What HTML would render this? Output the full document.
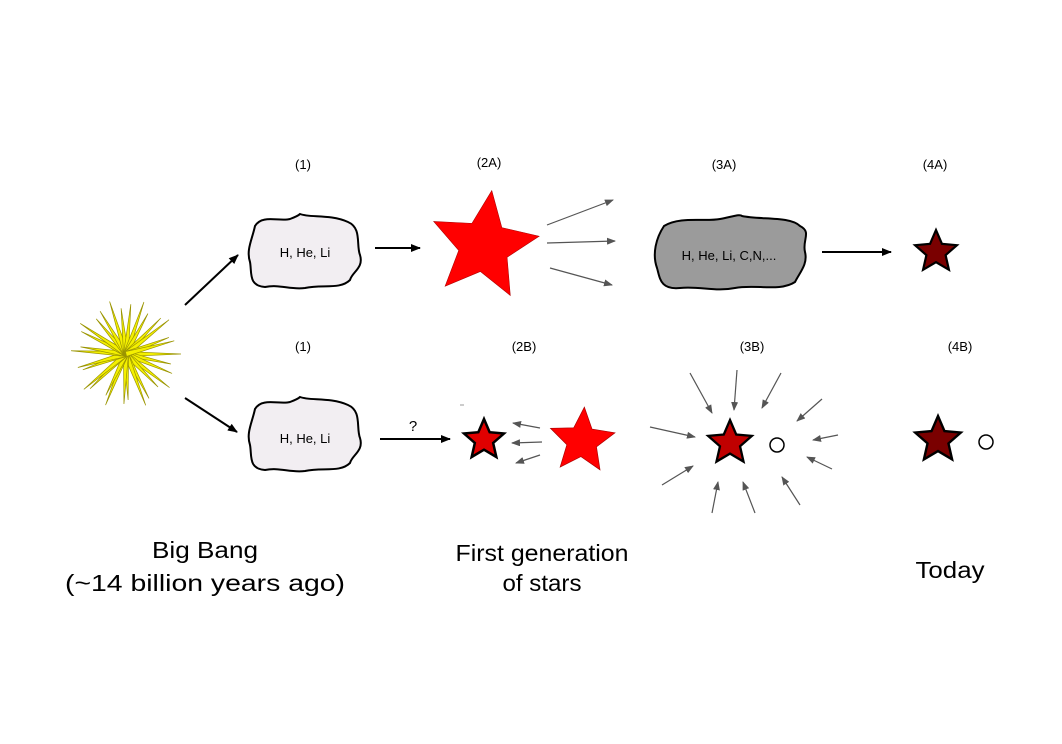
<!DOCTYPE html>
<html><head><meta charset="utf-8"><style>
html,body{margin:0;padding:0;background:#fff;}
svg{display:block;}
text{font-family:"Liberation Sans",sans-serif;}
</style></head><body>
<svg width="1062" height="744" viewBox="0 0 1062 744" xmlns="http://www.w3.org/2000/svg">
<defs>
<polygon id="st" points="0,-1 0.27,-0.37 0.951,-0.309 0.436,0.142 0.588,0.809 0,0.46 -0.588,0.809 -0.436,0.142 -0.951,-0.309 -0.27,-0.37"/>
<marker id="ab" markerWidth="10" markerHeight="8" refX="9" refY="4" orient="auto" markerUnits="userSpaceOnUse"><path d="M0,0 L10,4 L0,8 z" fill="#000"/></marker>
<marker id="ag" markerWidth="9" markerHeight="7" refX="8" refY="3.5" orient="auto" markerUnits="userSpaceOnUse"><path d="M0,0 L9,3.5 L0,7 z" fill="#555"/></marker>
</defs>

<g id="sun"></g>

<g font-size="13" text-anchor="middle" fill="#000">
<text x="303" y="169">(1)</text>
<text x="489" y="167">(2A)</text>
<text x="724" y="169">(3A)</text>
<text x="935" y="169">(4A)</text>
<text x="303" y="351">(1)</text>
<text x="524" y="351">(2B)</text>
<text x="752" y="351">(3B)</text>
<text x="960" y="351">(4B)</text>
</g>

<line x1="185" y1="305" x2="238" y2="255" stroke="#000" stroke-width="2" marker-end="url(#ab)"/>
<line x1="185" y1="398" x2="237" y2="432" stroke="#000" stroke-width="2" marker-end="url(#ab)"/>

<path d="M255,226 C262,214 280,222 290,219 C298,216 300,214 300,214 C310,218 330,214 348,222 C362,228 356,245 360,255 C364,268 352,272 350,280 C340,290 322,284 305,288 C290,290 280,284 265,287 C248,286 252,272 250,262 C246,250 252,240 255,226 Z" fill="#f2eef2" stroke="#000" stroke-width="2"/>
<text x="305" y="257" font-size="13" text-anchor="middle">H, He, Li</text>
<path d="M255,409 C262,397 280,405 290,402 C298,399 300,397 300,397 C310,401 330,397 348,405 C362,411 356,428 360,438 C364,451 352,455 350,463 C340,473 322,467 305,471 C290,473 280,467 265,470 C248,469 252,455 250,445 C246,433 252,423 255,409 Z" fill="#f2eef2" stroke="#000" stroke-width="2"/>
<text x="305" y="443" font-size="13" text-anchor="middle">H, He, Li</text>
<path d="M664,226 C680,216 705,222 720,219 C735,216 740,214 742,216 C760,220 790,216 800,226 C812,232 802,240 805,252 C808,264 800,272 795,282 C780,292 755,284 735,288 C715,292 700,286 680,288 C660,290 660,278 657,268 C652,254 656,238 664,226 Z" fill="#9b9b9b" stroke="#000" stroke-width="2"/>
<text x="729" y="260" font-size="13" text-anchor="middle">H, He, Li, C,N,...</text>

<line x1="375" y1="248" x2="420" y2="248" stroke="#000" stroke-width="2" marker-end="url(#ab)"/>
<line x1="822" y1="252" x2="891" y2="252" stroke="#000" stroke-width="2" marker-end="url(#ab)"/>
<line x1="547" y1="225" x2="613" y2="200" stroke="#555" stroke-width="1.2" marker-end="url(#ag)"/>
<line x1="547" y1="243" x2="615" y2="241" stroke="#555" stroke-width="1.2" marker-end="url(#ag)"/>
<line x1="550" y1="268" x2="612" y2="285" stroke="#555" stroke-width="1.2" marker-end="url(#ag)"/>

<use href="#st" transform="translate(484,246) rotate(8) scale(56)" fill="#ff0000" stroke="#a00" stroke-width="0.01"/>
<use href="#st" transform="translate(936,252) scale(22)" fill="#7a0000" stroke="#000" stroke-width="0.1"/>
<use href="#st" transform="translate(484,440) scale(21)" fill="#e00000" stroke="#000" stroke-width="0.12"/>
<use href="#st" transform="translate(582,441) rotate(4) scale(34)" fill="#ff0000" stroke="#a00" stroke-width="0.02"/>
<use href="#st" transform="translate(730,443) scale(23)" fill="#c00000" stroke="#000" stroke-width="0.1"/>
<circle cx="777" cy="445" r="7" fill="#fff" stroke="#000" stroke-width="1.5"/>
<use href="#st" transform="translate(938,440) scale(24)" fill="#7a0000" stroke="#000" stroke-width="0.1"/>
<circle cx="986" cy="442" r="7" fill="#fff" stroke="#000" stroke-width="1.5"/>

<text x="413" y="431" font-size="15" text-anchor="middle">?</text>
<line x1="380" y1="439" x2="450" y2="439" stroke="#000" stroke-width="2" marker-end="url(#ab)"/>
<line x1="460" y1="405" x2="464" y2="405" stroke="#999" stroke-width="1"/>
<g stroke="#555" stroke-width="1.2" marker-end="url(#ag)">
<line x1="540" y1="428" x2="513" y2="423"/>
<line x1="542" y1="442" x2="512" y2="443"/>
<line x1="540" y1="455" x2="516" y2="463"/>
<line x1="690" y1="373" x2="712" y2="413"/>
<line x1="737" y1="370" x2="734" y2="410"/>
<line x1="781" y1="373" x2="762" y2="408"/>
<line x1="822" y1="399" x2="797" y2="421"/>
<line x1="838" y1="435" x2="813" y2="440"/>
<line x1="832" y1="469" x2="807" y2="457"/>
<line x1="800" y1="505" x2="782" y2="477"/>
<line x1="755" y1="513" x2="743" y2="482"/>
<line x1="712" y1="513" x2="718" y2="482"/>
<line x1="662" y1="485" x2="693" y2="466"/>
<line x1="650" y1="427" x2="695" y2="437"/>
</g>

<g font-size="23" text-anchor="middle" fill="#000">
<text x="205" y="558" textLength="106" lengthAdjust="spacingAndGlyphs">Big Bang</text>
<text x="205" y="591" textLength="280" lengthAdjust="spacingAndGlyphs">(~14 billion years ago)</text>
<text x="542" y="561" textLength="173" lengthAdjust="spacingAndGlyphs">First generation</text>
<text x="542" y="591" textLength="79" lengthAdjust="spacingAndGlyphs">of stars</text>
<text x="950" y="578" textLength="69" lengthAdjust="spacingAndGlyphs">Today</text>
</g>
</svg>
<script>
(function(){
var g=document.getElementById('sun'),cx=126,cy=354,s='';
var n=30;
for(var i=0;i<n;i++){
 var a=i*2*Math.PI/n+0.07*Math.sin(i*3),r=(i%3==0?55:(i%3==1?46:50));
 var x1=cx+r*Math.cos(a),y1=cy+r*Math.sin(a);
 var x2=cx+2.5*Math.cos(a+Math.PI/2),y2=cy+2.5*Math.sin(a+Math.PI/2);
 var x3=cx+2.5*Math.cos(a-Math.PI/2),y3=cy+2.5*Math.sin(a-Math.PI/2);
 s+='<polygon points="'+x1+','+y1+' '+x2+','+y2+' '+x3+','+y3+'" fill="#f4f000" stroke="#9a9400" stroke-width="0.7"/>';
}
g.innerHTML=s;
})();
</script>
</body></html>
